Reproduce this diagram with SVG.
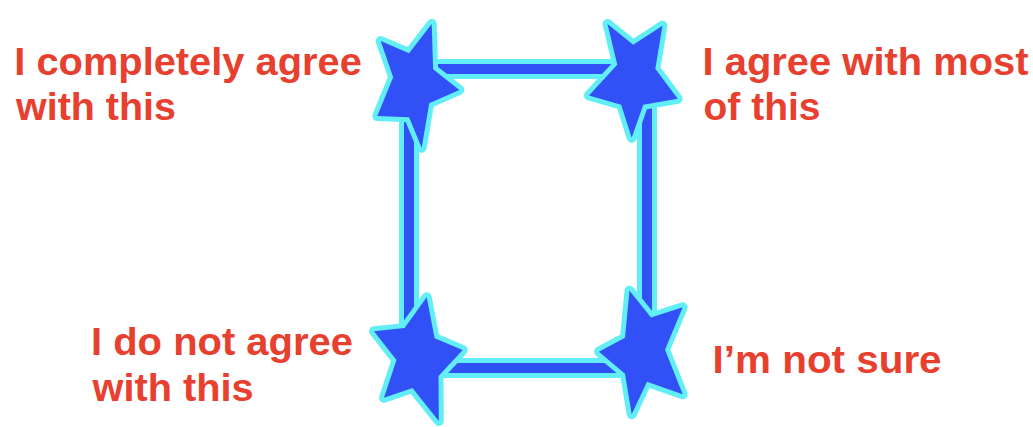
<svg xmlns="http://www.w3.org/2000/svg" width="1033" height="427" viewBox="0 0 1033 427">
  <style>
    .glow { fill: none; stroke: #62eef6; stroke-width: 20; }
    .bar { fill: none; stroke: #3150f5; stroke-width: 10; }
    .star { fill: #3150f5; stroke: #62eef6; stroke-width: 10; stroke-linejoin: round; paint-order: stroke; }
    .lbl { font-family: "Liberation Sans", Arial, sans-serif; font-weight: bold; font-size: 38px; fill: #e8402f; }
  </style>
  <rect width="1033" height="427" fill="#ffffff"/>
  <g id="connectors">
    <rect class="glow" x="409" y="69" width="238" height="299"/>
    <rect class="bar" x="409" y="69" width="238" height="299"/>
  </g>
  <g id="node-completely-agree">
    <polygon class="star" points="431.7,24 433.1,69.3 459.3,90 429.2,103.3 421.7,147.7 409.1,117.3 377.3,116 393.2,77.2 380.7,41 409.1,53.2"/>
    <text class="lbl" x="14.3" y="75" textLength="347.5" lengthAdjust="spacingAndGlyphs">I completely agree</text>
    <text class="lbl" x="16" y="120" textLength="160" lengthAdjust="spacingAndGlyphs">with this</text>
  </g>
  <g id="node-agree-most">
    <polygon class="star" points="607.5,24 633.2,44.7 662.5,25.7 655.3,68.7 677.7,98.8 643.3,104.7 631.7,137.7 621.2,104.7 589,95.5 617.3,64.8"/>
    <text class="lbl" x="702.6" y="75" textLength="326" lengthAdjust="spacingAndGlyphs">I agree with most</text>
    <text class="lbl" x="703.5" y="120" textLength="117" lengthAdjust="spacingAndGlyphs">of this</text>
  </g>
  <g id="node-not-agree">
    <polygon class="star" points="426.7,297.3 434.6,338.2 462.7,350 438.5,376.1 438.8,421 412.5,388.1 384,397.7 396.5,360.1 374,331.2 404.6,328.1"/>
    <text class="lbl" x="91" y="355" textLength="262" lengthAdjust="spacingAndGlyphs">I do not agree</text>
    <text class="lbl" x="92.5" y="401" textLength="161" lengthAdjust="spacingAndGlyphs">with this</text>
  </g>
  <g id="node-not-sure">
    <polygon class="star" points="629.5,290.7 651,317.6 682.7,307.3 665,349.7 682.7,394.3 647,381.7 631.7,414.3 625,373.7 599,351.7 625,337.7"/>
    <text class="lbl" x="712.6" y="373" textLength="229" lengthAdjust="spacingAndGlyphs">I’m not sure</text>
  </g>
</svg>
